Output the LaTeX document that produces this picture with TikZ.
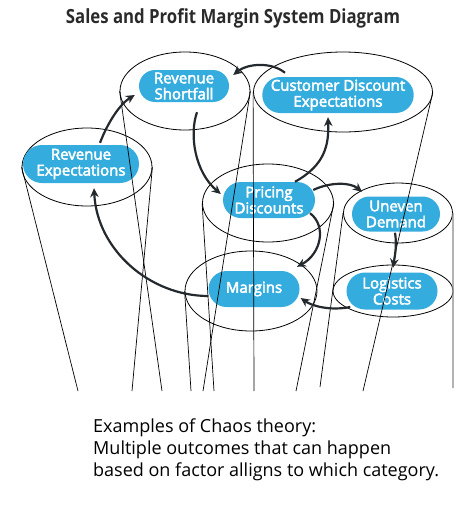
\documentclass[tikz,border=0pt]{standalone}
\usepackage{fontspec}
\setmainfont{Open Sans}
\newfontfamily\pillfont[FakeBold=3]{Open Sans}
\newfontfamily\titlefont[FakeStretch=0.86]{Open Sans}
\newfontfamily\notefont{Open Sans}
\usetikzlibrary{shapes.geometric,shapes.misc,arrows.meta,calc}
\definecolor{pillblue}{HTML}{35ACDE}
\definecolor{arrowdark}{HTML}{23292C}
\definecolor{titlegray}{HTML}{2A2A2A}
\definecolor{sidegray}{HTML}{8A8A8A}
\begin{document}
\begin{tikzpicture}[x=1pt,y=-1pt,
  rim/.style={ellipse, draw=black, line width=0.8pt, inner sep=0pt},
  pill/.style={rounded rectangle, fill=pillblue, text=white, inner sep=0pt,
    font=\pillfont\fontsize{15}{16}\selectfont, align=center},
  side/.style={draw=black, line width=0.7pt},
  flow/.style={draw=arrowdark, line width=2.2pt, -{Stealth[length=9pt,width=8.5pt]}}]
\useasboundingbox (0,0) rectangle (467,514);

% title
\node[font=\titlefont\bfseries\fontsize{19.5}{22}\selectfont, text=titlegray] (title) at (233,18) {Sales and Profit Margin System Diagram};

% rims
\node[rim, minimum width=130pt, minimum height=78pt] (ers) at (185,91) {};
\node[rim, minimum width=179pt, minimum height=80pt] (ecd) at (343,92) {};
\node[rim, minimum width=130pt, minimum height=78pt] (ere) at (87,167) {};
\node[rim, minimum width=131pt, minimum height=78pt] (epd) at (268,203) {};
\node[rim, minimum width=109pt, minimum height=60pt] (eud) at (398,213) {};
\node[rim, minimum width=132pt, minimum height=80pt] (emg) at (251,291) {};
\node[rim, minimum width=120pt, minimum height=52pt] (elc) at (393,291) {};

% pills
\node[pill, minimum width=90pt, minimum height=32pt] (rshort) at (184,86) {Revenue\\Shortfall};
\node[pill, minimum width=149pt, minimum height=36pt] (cdisc) at (338,95) {Customer Discount\\Expectations};
\node[pill, minimum width=116pt, minimum height=38pt] (rexp) at (81,164) {Revenue\\Expectations};
\node[pill, minimum width=92pt, minimum height=36pt] (price) at (269,200) {Pricing\\Discounts};
\node[pill, minimum width=88pt, minimum height=35pt] (uneven) at (396,214) {Uneven\\Demand};
\node[pill, minimum width=91pt, minimum height=36pt] (marg) at (254,289) {Margins};
\node[pill, minimum width=91pt, minimum height=37pt] (logi) at (392,291) {Logistics\\Costs};

% foot points of the sides
\coordinate (f1) at (78,391);
\coordinate (f2) at (132,391);
\coordinate (f3) at (162,391);
\coordinate (f4) at (191,391);
\coordinate (f5) at (203,391);
\coordinate (f6) at (214,391);
\coordinate (f7) at (254,391);
\coordinate (f8) at (296,391);
\coordinate (f9) at (320,387);
\coordinate (f10) at (363,391);
\coordinate (f11) at (453,388);

\draw[side] (ere.west) -- (f1);
\draw[side] (ere.east) -- (f2);
\draw[side] (ers.west) -- (f3);
\draw[side] (emg.west) -- (f4);
\draw[side] (ers.east) -- (f5);
\draw[side] (epd.west) -- (f6);
\draw[side] (ecd.west) -- (f7);
\draw[side] (epd.east) -- (f8);
\draw[side] (eud.west) -- (f9);
\draw[side] (ecd.east) -- (f10);
\draw[draw=sidegray, line width=1.3pt] (eud.east) -- (f11);

% arrows
\draw[flow] ($(rexp.north)+(19,-2)$) .. controls (108,122) and (120,104) .. ($(rshort.west)+(-4,9)$);
\draw[flow] ($(cdisc.north)+(-53,-4)$) .. controls (272,62) and (248,63) .. ($(rshort.east)+(4,-11)$);
\draw[flow] ($(rshort.south)+(13,10)$) .. controls (189,135) and (195,172) .. ($(price.west)+(-2,-6)$);
\draw[flow] ($(price.north east)+(-2,0)$) .. controls (325,165) and (329,145) .. ($(cdisc.south)+(-10,4)$);
\draw[flow] ($(price.east)+(-2,-10)$) .. controls (330,182) and (350,182) .. ($(uneven.north)+(-34,-4.5)$);
\draw[flow] ($(price.south)+(41,-5)$) .. controls (327,226) and (321,254) .. ($(marg.north)+(43,-4)$);
\draw[flow] ($(uneven.south)+(-1,1)$) .. controls (397,245) and (395,255) .. ($(logi.north)+(1,-4.5)$);
\draw[flow] ($(logi.west)+(4,16)$) .. controls (330,311) and (312,306) .. ($(marg.east)+(1,9)$);
\draw[flow] ($(marg.west)+(0,7)$) .. controls (150,296) and (97,250) .. ($(rexp.south)+(13,5)$);

% note
\node[anchor=north west, align=left, text=black, inner sep=0pt,
  font=\notefont\fontsize{18}{22}\selectfont] (note) at (93,419)
  {Examples of Chaos theory:\\Multiple outcomes that can happen\\based on factor alligns to which category.};
\end{tikzpicture}
\end{document}
